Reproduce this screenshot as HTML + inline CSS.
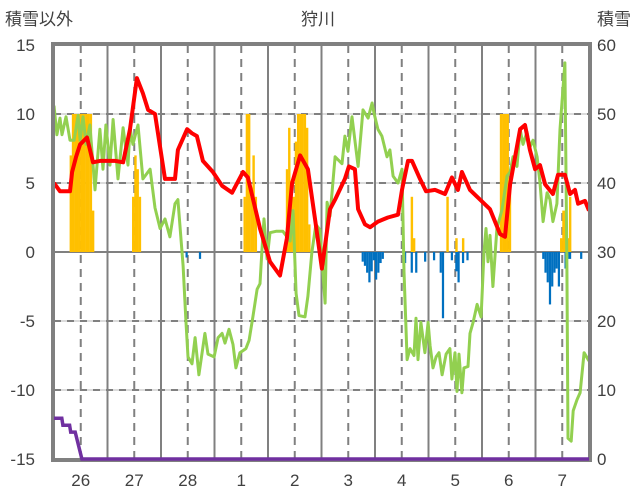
<!DOCTYPE html>
<html><head><meta charset="utf-8"><style>
body{margin:0;background:#fff;}
svg{display:block;font-family:"Liberation Sans","Noto Sans CJK JP",sans-serif;}
</style></head><body>
<svg id="chart" width="636" height="501" xmlns="http://www.w3.org/2000/svg">
<text x="5" y="25" font-size="17" fill="#404040">積雪以外</text>
<text x="318" y="25" font-size="17" fill="#404040" text-anchor="middle">狩川</text>
<text x="631" y="25" font-size="17" fill="#404040" text-anchor="end">積雪</text>
<g id="grid"></g><g id="bars"></g><g id="lines"></g><g id="axes"></g><g id="top"></g>
</svg>
<script>
const dayLabels=["26","27","28","1","2","3","4","5","6","7"];
const leftTicks=[15,10,5,0,-5,-10,-15];
const rightTicks=[60,50,40,30,20,10,0];
const redT=[0,2.7,7.2,8.1,9.9,11.7,14.8,17.5,20.6,27.4,31,34.1,37.2,39.9,42.2,45.3,49.8,54.3,55.6,59.7,61.9,64.1,66.8,71.3,75.4,79.9,84.8,87,92.4,96.9,101.4,104.5,106.8,110.4,113.9,117.1,120.2,123.8,126.1,130.5,132.3,135,136.4,139.5,141.8,145.3,149.8,154.3,156.1,158.8,160.6,164.2,166.9,170.9,175.4,178.5,181.2,183,186.6,191.1,195.6,200.1,202.3,204.6,209.1,211.3,213.5,215.8,218,220.3,223.8,226.1,229.2,231.5,233.7,235.1,238.2,240];
const redV=[5,4.4,4.4,5.8,6.9,7.8,8.3,6.5,6.6,6.6,6.5,8.9,12.6,11.5,10.3,10,5.3,5.3,7.4,8.9,8.6,8.4,6.6,5.8,4.8,4.3,5.8,5.4,1.7,-0.7,-1.7,1,5,7,6,2.4,-1.2,3.1,3.8,5.3,6.2,6,3.1,2,1.8,2.2,2.5,2.7,4.5,6.6,6.6,5.3,4.4,4.5,4.2,5.4,4.5,5.8,4.5,3.8,3.1,1.3,1.1,4.9,8.9,9.2,7.4,6,6.3,4.9,4.2,5.6,5.6,4.2,4.5,3.5,3.7,3];
const greenT=[0,1.3,2.7,3.6,5.4,7.2,9,10.8,11.7,13,14.4,16.1,18.4,20.6,22,23.3,25.1,26.5,28.7,31,33.2,34.1,35.4,37.7,39.9,43.1,45.3,47.6,49.8,52,54.3,55.6,57.9,59.2,60.1,61.9,63.3,65,67.7,69.1,71.8,73.6,75.4,76.7,78.5,80.3,81.6,83.4,86.1,87.5,89.3,91.1,92.4,93.3,94.2,95.6,96.9,99.6,102.7,105.9,107.2,108.6,109.9,112.6,113.9,115.7,117.5,119.3,121.6,122.5,123.8,126.1,129.2,130.5,131.9,133.7,136.4,138.6,140.9,142.7,143.5,145.3,147.1,149.4,150.7,152.1,154.3,156.1,157,158.4,159.7,161.5,162.4,163.3,164.6,166.4,167.8,168.7,170,171.4,172.7,174.1,175.9,177.6,178.5,179.9,180.8,181.7,183,183.9,185.7,186.6,188,189.8,191.6,192.9,193.8,194.7,195.6,196.9,198.7,201,203.2,204.6,205.9,207.7,209.1,210.4,212.2,213.5,214.9,216.7,218,219.4,221.2,222.5,223.8,225.6,227,229.2,230.1,230.6,232,232.9,234.6,236,237.8,240];
const greenV=[10.6,8.5,9.7,8.5,9.8,8.1,8.1,9.9,8.1,9.8,7.8,9.2,4.5,8.9,6,9.2,6.3,9.6,5.3,9,6.3,9,7.8,9.2,5.3,6,3.2,1.7,2.4,1.1,3.5,3.8,-1,-5.1,-7.6,-8.1,-6.2,-8.9,-5.9,-7.4,-7.6,-6.2,-5.9,-6.6,-5.6,-6.7,-8.4,-7.3,-7,-6.4,-4.6,-2.7,-2.3,0.2,2.4,-0.5,1.4,1.5,1.5,0.8,3,-3,-4.6,-4.7,-3.2,0,2,1.6,-3.7,3.6,2.6,6.9,6.4,8.4,7.3,9.8,6.2,10.3,9.7,10.8,10.1,8.9,8.4,6.9,7.4,5.5,5,6,-1.4,-7.8,-7,-7.5,-4.8,-7.8,-5.1,-7.3,-5.1,-6.8,-8.4,-7.6,-7.3,-8.9,-7.4,-7,-9.2,-7.3,-10.1,-7.4,-10.2,-8.4,-8.3,-5.9,-5.1,-3.8,-4.7,0,1.7,-0.7,1.2,-2.5,1.7,3.1,5.5,5.8,6.9,6.2,8.9,7.8,8.7,7.6,8.1,6.9,5,2.2,4.3,3.8,2.2,3.5,8.9,13.7,-1,-13.5,-13.7,-11.5,-10.7,-10.2,-7.3,-7.9];
const snowT=[0,3.5,4,7,7.5,9.5,12.5,240];
const snowV=[5.9,5.9,4.9,4.9,3.9,3.9,0,0];
const orangeH=[7,8,9,10,11,12,13,14,15,16,17,35,36,37,38,85,86,87,88,89,90,104,105,106,107,108,109,110,111,112,113,114,160,161,176,180,183,200,201,202,203,204,227,228,229,230,231];
const orangeV=[7,10,10,10,10,10,10,10,10,10,3,4,7,6,4,4,10,10,4,7,4,6,9,4,4,8,10,10,10,10,9,2,4,1,4,1,1,10,10,10,10,5,1,3,3,1,4];
const blueH=[59,65,138,139,140,141,142,143,144,145,146,147,157,160,162,166,170,173,174,178,180,181,183,185,219,220,221,222,223,224,225,226,229,230,231,236];
const blueV=[-0.4,-0.5,-0.7,-1,-1.5,-2.2,-1.4,-0.6,-2,-1.5,-0.8,-0.5,-0.8,-1.5,-1.5,-0.7,-0.6,-1.5,-4.8,-0.6,-1.4,-2.2,-0.8,-0.6,-0.5,-1.5,-2.2,-3.8,-2.5,-1.5,-1.2,-2.5,-1.2,-0.5,-0.5,-0.5];

const X0=54,X1=589,Y0=45,Y1=459;
const xs=h=>X0+(X1-X0)*h/240;
const yL=v=>Y1-(v+15)/30*(Y1-Y0);
const yR=v=>Y1-v/60*(Y1-Y0);
const NS="http://www.w3.org/2000/svg";
function mk(tag,attrs,parent){const e=document.createElementNS(NS,tag);for(const k in attrs)e.setAttribute(k,attrs[k]);document.getElementById(parent).appendChild(e);return e;}

leftTicks.forEach(t=>{
  if(t===15||t===-15)return;
  const y=yL(t);
  const l=mk('line',{x1:X0,x2:X1,y1:y,y2:y,stroke:t===0?'#808080':'#d0d0d0','stroke-width':t===0?2:1.5},'grid');
  
  
  if(t!==0){const d=mk('line',{x1:X0,x2:X1,y1:y,y2:y,stroke:'#808080','stroke-width':2,'stroke-dasharray':'7,6'},'grid');
  
  }
});
for(let k=0;k<10;k++){
  const xd=xs(k*24+12);
  const d=mk('line',{x1:xd,x2:xd,y1:Y0,y2:Y1,stroke:'#808080','stroke-width':2,'stroke-dasharray':'8,6'},'grid');
  
  
  if(k>0){const xm=xs(k*24);
  const s=mk('line',{x1:xm,x2:xm,y1:Y0,y2:Y1,stroke:'#808080','stroke-width':2},'grid');
  
  }
}
const bw=(X1-X0)/240;
orangeH.forEach((h,i)=>{const v=orangeV[i];
  const r=mk('rect',{x:xs(h),y:yL(v),width:bw+0.2,height:yL(0)-yL(v),fill:'#ffc000'},'bars');
  
  });
blueH.forEach((h,i)=>{const v=blueV[i];
  const r=mk('rect',{x:xs(h),y:yL(0),width:bw,height:yL(v)-yL(0),fill:'#0070c0'},'bars');
  
  });
function path(T,V,f){return T.map((t,i)=>(i?'L':'M')+xs(t).toFixed(1)+','+f(V[i]).toFixed(1)).join('');}
const g=mk('path',{d:path(greenT,greenV,yL),fill:'none',stroke:'#92d050','stroke-width':3,'stroke-linejoin':'round'},'lines');


const r=mk('path',{d:path(redT,redV,yL),fill:'none',stroke:'#ff0000','stroke-width':4,'stroke-linejoin':'round'},'lines');


const fr=mk('rect',{x:X0-1,y:Y0-1,width:X1-X0+2,height:Y1-Y0+2,fill:'none',stroke:'#808080','stroke-width':4},'axes');


const p=mk('path',{d:path(snowT,snowV,yR),fill:'none',stroke:'#7030a0','stroke-width':3.5},'top');


leftTicks.forEach(t=>{const e=mk('text',{x:35,y:yL(t)+6,'font-size':17,fill:'#404040','text-anchor':'end'},'axes');e.textContent=t;
  
  });
rightTicks.forEach(t=>{const e=mk('text',{x:597,y:yR(t)+6,'font-size':17,fill:'#404040'},'axes');e.textContent=t;
  
  });
dayLabels.forEach((d,k)=>{const e=mk('text',{x:xs(k*24+12),y:486,'font-size':17,fill:'#404040','text-anchor':'middle'},'axes');e.textContent=d;
  
  });
</script>
</body></html>
